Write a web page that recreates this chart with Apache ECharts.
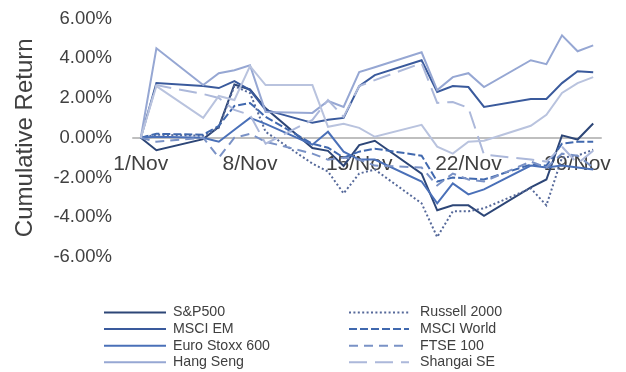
<!DOCTYPE html>
<html>
<head>
<meta charset="utf-8">
<title>Cumulative Return – November</title>
<script src="https://cdn.jsdelivr.net/npm/echarts@6/dist/echarts.min.js"></script>
<style>
  html, body { margin: 0; padding: 0; background: #ffffff; }
  #chart { width: 626px; height: 372px; }
</style>
</head>
<body>
<div id="chart"></div>
<script>
// Trading days of the month (day of month) and the labelled days on the axis
const days = [1, 2, 5, 6, 7, 8, 9, 12, 13, 14, 15, 16, 19, 20, 21, 22, 23, 26, 27, 28, 29, 30];
const tickDays = [1, 8, 15, 22, 29];
const monthName = 'Nov';

// Cumulative return in percent for each index
const sp500      = [0, -0.63, -0.07, 0.55, 2.68, 2.43, 1.48, -0.52, -0.66, -1.42, -0.37, -0.15, -1.81, -3.65, -3.40, -3.40, -3.93, -2.50, -2.10, 0.12, -0.09, 0.72];
const russell    = [0, 0.15, 0.10, 0.50, 2.60, 2.25, 0.30, -1.30, -1.70, -2.80, -1.80, -1.60, -3.30, -5.00, -3.70, -3.70, -3.55, -2.55, -3.40, -1.00, -0.90, -0.60];
const msciEM     = [0, 2.75, 2.60, 2.50, 2.85, 2.40, 1.40, 0.75, 0.90, 1.00, 2.60, 3.15, 3.90, 2.30, 2.60, 2.55, 1.55, 1.95, 1.95, 2.75, 3.35, 3.30];
const msciWorld  = [0, 0.20, 0.15, 0.60, 1.60, 1.75, 1.05, -0.30, -0.50, -1.00, -0.70, -0.55, -0.90, -2.20, -2.00, -2.05, -2.10, -1.35, -1.40, -0.30, -0.20, -0.20];
const euroStoxx  = [0, 0.05, 0.00, -0.20, 0.40, 1.00, 0.70, -0.35, 0.30, -0.70, -1.10, -1.10, -2.20, -3.30, -2.30, -2.85, -2.60, -1.40, -1.50, -1.40, -1.50, -1.60];
const ftse100    = [0, -0.20, 0.00, -1.00, 0.00, 0.20, -0.20, -0.80, -1.10, -1.00, -1.10, -1.40, -1.50, -2.40, -1.80, -2.10, -2.20, -1.20, -1.50, -0.80, -0.90, -1.50];
const hangSeng   = [0, 4.50, 2.65, 3.25, 3.40, 3.65, 1.30, 1.25, 1.85, 1.55, 3.30, 3.55, 4.30, 2.40, 3.05, 3.25, 2.55, 3.90, 3.70, 5.15, 4.35, 4.65];
const shanghai   = [0, 2.65, 2.20, 2.00, 1.40, 1.15, -0.30, 0.90, 1.90, 1.05, 2.60, 2.90, 3.75, 1.75, 1.80, 1.50, -0.85, -1.10, -1.20, -0.45, -1.30, -0.65];
const nikkei     = [0, 2.60, 1.00, 2.10, 1.90, 3.60, 2.65, 2.65, 0.55, 0.70, 0.50, 0.05, 0.65, -0.45, -0.80, -0.20, -0.15, 0.60, 1.15, 2.25, 2.75, 3.05];

// Y axis range and step (percent)
const yMin = -6, yMax = 6, yStep = 2;

// Legend columns (series names)
const legendLeft  = ['S&P500', 'MSCI EM', 'Euro Stoxx 600', 'Hang Seng'];
const legendRight = ['Russell 2000', 'MSCI World', 'FTSE 100', 'Shangai SE'];

// Line appearance per index, in drawing order
const styles = [
  { name: 'S&P500',         values: sp500,     color: '#2d4677', type: 'solid' },
  { name: 'Russell 2000',   values: russell,   color: '#56699a', type: [2, 2.4] },
  { name: 'MSCI EM',        values: msciEM,    color: '#3a5a9c', type: 'solid' },
  { name: 'MSCI World',     values: msciWorld, color: '#4068ae', type: [8, 3] },
  { name: 'Euro Stoxx 600', values: euroStoxx, color: '#4a70b8', type: 'solid' },
  { name: 'FTSE 100',       values: ftse100,   color: '#7a92c6', type: [9, 6] },
  { name: 'Hang Seng',      values: hangSeng,  color: '#96a7d3', type: 'solid' },
  { name: 'Shangai SE',     values: shanghai,  color: '#acb8da', type: [18, 8] },
  { name: 'Nikkei 225',     values: nikkei,    color: '#b9c3de', type: 'solid' }
];

const FONT = "'Liberation Sans', Arial, sans-serif";
const TEXT = '#404040';

// Plot area geometry
const gridTop = 18.5, gridBottom = 115, chartHeight = 372;
const plotHeight = chartHeight - gridTop - gridBottom;
// Distance from the bottom edge of the plot to the zero line
const zeroOffset = plotHeight * (0 - yMin) / (yMax - yMin);

const series = styles.map(s => ({
  name: s.name,
  type: 'line',
  symbol: 'none',
  data: days.map((d, i) => [d, s.values[i]]),
  lineStyle: { color: s.color, width: 2, type: s.type, cap: 'butt', join: 'miter' },
  itemStyle: { color: s.color },
  emphasis: { disabled: true }
}));

const legendBase = {
  orient: 'vertical',
  top: 305.5,
  padding: 0,
  itemHeight: 12,
  itemGap: 2.6,
  selectedMode: false,
  itemStyle: { opacity: 0 },
  textStyle: { fontFamily: FONT, fontSize: 14.2, color: TEXT }
};

const chart = echarts.init(document.getElementById('chart'), null, { renderer: 'canvas' });
chart.setOption({
  animation: false,
  backgroundColor: '#ffffff',
  grid: { left: 133, right: 25, top: gridTop, bottom: gridBottom, containLabel: false },
  legend: [
    Object.assign({}, legendBase, {
      left: 103, itemWidth: 62, data: legendLeft,
      textStyle: Object.assign({}, legendBase.textStyle, { padding: [0, 0, 0, 2] })
    }),
    Object.assign({}, legendBase, {
      left: 348, itemWidth: 60, data: legendRight,
      textStyle: Object.assign({}, legendBase.textStyle, { padding: [0, 0, 0, 6] })
    })
  ],
  xAxis: {
    type: 'value',
    min: 0.5,
    max: 30.5,
    position: 'bottom',
    offset: -zeroOffset,
    axisLine: { show: true, onZero: false, lineStyle: { color: '#bfbfbf', width: 2 } },
    axisTick: { show: false },
    splitLine: { show: false },
    axisLabel: {
      customValues: tickDays,
      formatter: v => v + '/' + monthName,
      fontFamily: FONT, fontSize: 21, color: TEXT, margin: 16
    }
  },
  yAxis: {
    type: 'value',
    min: yMin,
    max: yMax,
    interval: yStep,
    name: 'Cumulative Return',
    nameLocation: 'middle',
    nameGap: 96,
    nameTextStyle: { fontFamily: FONT, fontSize: 24, color: TEXT },
    axisLine: { show: false },
    axisTick: { show: false },
    splitLine: { show: false },
    axisLabel: {
      formatter: v => v.toFixed(2) + '%',
      fontFamily: FONT, fontSize: 18.5, color: TEXT, margin: 21
    }
  },
  series: series
});
</script>
</body>
</html>
